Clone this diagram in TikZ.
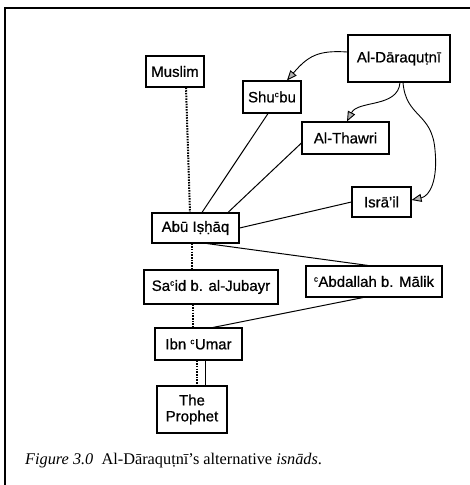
\documentclass[tikz,border=0pt]{standalone}
\usepackage{fontspec}
\setmainfont{Liberation Serif}
\newfontfamily\boxfont[FakeBold=0.7]{Liberation Sans}
\usetikzlibrary{arrows.meta,calc}

\newcommand{\ayn}{\textsuperscript{\footnotesize c}}

\tikzset{
  person/.style={draw, line width=1.1pt, rectangle, inner sep=0pt, align=center,
    font=\boxfont\fontsize{15}{17}\selectfont},
  link/.style={line width=1pt},
  chain/.style={line width=2pt, dash pattern=on 1.5pt off 1.2pt},
  cite/.style={line width=0.9pt, -{Triangle[length=10pt, width=8pt, fill=gray!60]}},
}

\begin{document}
\begin{tikzpicture}[x=1pt, y=-1pt]
  \useasboundingbox (0,0) rectangle (469,485);
  \fill[white] (0,0) rectangle (469,485);

  % outer frame (open to the right and bottom)
  \draw[line width=1.4pt] (5,495) -- (5,8) -- (480,8);

  % transmitters
  \node[person, minimum width=58pt, minimum height=31pt] (muslim) at (175,71.5) {Muslim};
  \node[person, minimum width=102pt, minimum height=47pt] (dar) at (399,58.5) {Al-Dāraquṭnī};
  \node[person, minimum width=58pt, minimum height=32pt] (shubu) at (272,97) {Shu\ayn bu};
  \node[person, minimum width=87pt, minimum height=32pt] (thawri) at (345.5,138) {Al-Thawri};
  \node[person, minimum width=59pt, minimum height=30pt] (israil) at (381.5,202) {Isrā’il};
  \node[person, minimum width=87pt, minimum height=30pt] (abu) at (195.5,228) {Abū Iṣḥāq};
  \node[person, minimum width=134pt, minimum height=34pt] (said) at (211,287) {Sa\ayn id b. al-Jubayr};
  \node[person, minimum width=136pt, minimum height=31pt] (abd) at (374,281.5) {\ayn Abdallah b. Mālik};
  \node[person, minimum width=87pt, minimum height=32pt] (ibn) at (198.5,344) {Ibn \ayn Umar};
  \node[person, minimum width=70pt, minimum height=47pt] (prophet) at (192,409.5) {The\\[-1pt]Prophet};

  % Muslim's chain (dotted)
  \draw[chain] ([xshift=11pt]muslim.south) -- ([xshift=-5.5pt]abu.north);
  \draw[chain] ([xshift=-3.5pt]abu.south) -- ([xshift=-19pt]said.north);
  \draw[chain] ([xshift=-18pt]said.south) -- ([xshift=-5.5pt]ibn.north);
  \draw[chain] ([xshift=-1.5pt]ibn.south) -- ([xshift=5pt]prophet.north);

  % al-Daraqutni's chains (solid)
  \draw[link] ([xshift=-4pt]shubu.south) -- ([xshift=6.5pt]abu.north);
  \draw[link] ([yshift=-5pt]thawri.west) -- ([xshift=32.5pt]abu.north);
  \draw[link] (israil.west) -- (abu.east);
  \draw[link] ([xshift=11.5pt]abu.south) -- ([xshift=-6pt]abd.north);
  \draw[link] ([xshift=-11pt]abd.south) -- ([xshift=14.5pt]ibn.north);
  \draw[link] ([xshift=6.5pt]ibn.south) -- ([xshift=13pt]prophet.north);

  % al-Daraqutni citing his sources
  \draw[cite] ([yshift=6.5pt]dar.west) .. controls (318,50) and (308,56) .. ([xshift=15pt]shubu.north);
  \draw[cite] ([xshift=1pt]dar.south) .. controls (398,108) and (358,100) .. ([xshift=1.5pt]thawri.north);
  \draw[cite] ([xshift=4pt]dar.south) .. controls (406,118) and (432,112) .. (435,150)
              .. controls (438,180) and (430,196) .. ([yshift=2pt]israil.east);

  % caption
  \node[anchor=base west, inner sep=0pt, font=\fontsize{16.3}{19}\selectfont] (cap) at (25,464)
    {\textit{Figure 3.0}\enspace Al-Dāraquṭnī’s alternative \textit{isnāds}.};
\end{tikzpicture}
\end{document}
